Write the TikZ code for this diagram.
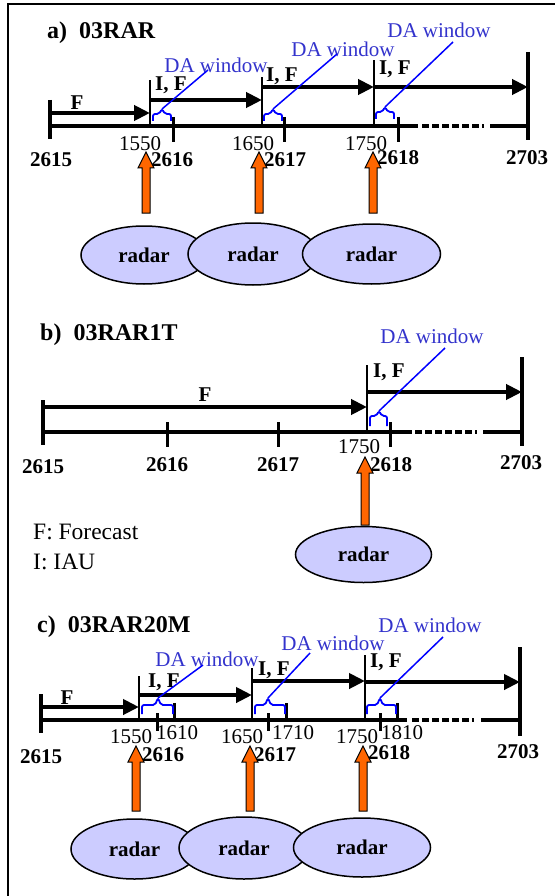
\documentclass[tikz,border=0pt]{standalone}
\usepackage{fontspec}
\setmainfont{Liberation Serif}
\usetikzlibrary{arrows.meta,shapes.geometric}

\definecolor{radarfill}{RGB}{204,204,255}
\definecolor{radarorange}{RGB}{255,102,0}
\definecolor{datext}{RGB}{51,51,204}

\tikzset{
  timeline/.style={line width=4pt},
  dotgap/.style={line width=4pt,dash pattern=on 7pt off 3pt},
  endtick/.style={line width=4.5pt},
  hourtick/.style={line width=3pt},
  cycleline/.style={line width=2pt},
  run/.style={line width=4pt,-{Triangle[length=16pt,width=15pt]}},
  dabrace/.style={blue,line width=1.8pt,rounded corners=2pt},
  daleader/.style={blue,line width=1.5pt},
  dalabel/.style={text=datext,font=\fontsize{21}{24}\selectfont,inner sep=0pt},
  lab/.style={font=\fontsize{21}{24}\selectfont,inner sep=0pt},
  blab/.style={font=\fontsize{21}{24}\selectfont\bfseries,inner sep=0pt},
  paneltitle/.style={font=\fontsize{24}{28}\selectfont\bfseries,inner sep=0pt,anchor=west},
  legend/.style={font=\fontsize{23.5}{28}\selectfont,inner sep=0pt,anchor=west},
  radar/.style={ellipse,draw,line width=1.5pt,fill=radarfill,inner sep=0pt,
    font=\fontsize{21}{24}\selectfont\bfseries},
  radarup/.style={fill=radarorange,draw=black,line width=1pt},
}

\begin{document}
\begin{tikzpicture}[x=1pt,y=-1pt]
  \useasboundingbox (0,0) rectangle (555,896);
  \draw[line width=1.8pt] (8,896) -- (8,4) -- (555,4);

  % a) 03RAR
  \node[paneltitle] (ta) at (47,33) {a)\ \ 03RAR};
  \coordinate (sa) at (50,126);
  \coordinate (ca1) at (150,126);
  \coordinate (ca2) at (262,126);
  \coordinate (ca3) at (374,126);
  \coordinate (ea) at (528,126);
  \draw[timeline] (sa) -- (418,126);
  \draw[dotgap] (422,126) -- (484,126);
  \draw[timeline] (490,126) -- (ea);
  \draw[endtick] (sa |- 0,100) -- (sa |- 0,139);
  \draw[endtick] (ea |- 0,52) -- (ea |- 0,140);
  \foreach \x in {173,284,398}
    \draw[hourtick] (\x,117) -- (\x,142);
  \draw[cycleline] (ca1) -- (ca1 |- 0,80);
  \draw[cycleline] (ca2) -- (ca2 |- 0,77);
  \draw[cycleline] (ca3) -- (ca3 |- 0,60);
  \draw[run] (sa |- 0,113) -- (ca1 |- 0,113);
  \draw[run] (ca1 |- 0,100) -- (ca2 |- 0,100);
  \draw[run] (ca2 |- 0,87) -- (ca3 |- 0,87);
  \draw[run] (ca3 |- 0,87) -- (ea |- 0,87);
  \node[blab] (fa) at (77,103) {F};
  \node[blab,anchor=west] (ifa1) at (155,85) {I, F};
  \node[blab,anchor=west] (ifa2) at (266,76) {I, F};
  \node[blab,anchor=west] (ifa3) at (379,69) {I, F};
  \foreach \i/\l/\r/\y in {1/153/171/0, 2/264/282/0, 3/376/394/-2}
    \draw[dabrace] (\l,121+\y) -- (\l,114+\y) -- ({(\l+\r)/2-3},114+\y)
      -- ({(\l+\r)/2},109+\y) coordinate (cuspa\i) -- ({(\l+\r)/2+3},114+\y)
      -- (\r,114+\y) -- (\r,121+\y);
  \foreach \i/\x/\y/\dx/\dy in {1/216/65/-8/5, 2/343/49/-6/5, 3/439/30/14/12} {
    \node[dalabel] (daa\i) at (\x,\y) {DA window};
    \draw[daleader] (cuspa\i) -- ([shift={(\dx,\dy)}]daa\i.center);
  }
  \foreach \t/\x in {1550/140, 1650/253, 1750/366}
    \node[lab] (a\t) at (\x,144) {\t};
  \foreach \t/\x/\y in {2615/51/160, 2616/172/160, 2617/285/160, 2618/398/158, 2703/527/158}
    \node[blab] (a\t) at (\x,\y) {\t};
  \foreach \x in {146,259,373}
    \filldraw[radarup] (\x-4,213) -- (\x-4,168) -- (\x-8,168) -- (\x,152)
      -- (\x+8,168) -- (\x+4,168) -- (\x+4,213) -- cycle;
  \foreach \i/\x/\y/\w/\h in {1/144/255/126pt/58pt, 2/253/254/130pt/62pt, 3/371.5/254/138pt/60pt}
    \node[radar,minimum width=\w,minimum height=\h] (ra\i) at (\x,\y) {radar};

  % b) 03RAR1T
  \node[paneltitle] (tb) at (40,335) {b)\ \ 03RAR1T};
  \coordinate (sb) at (43,432);
  \coordinate (cb) at (367,432);
  \coordinate (eb) at (522,432);
  \draw[timeline] (sb) -- (412,432);
  \draw[dotgap] (415,432) -- (477,432);
  \draw[timeline] (483,432) -- (eb);
  \draw[endtick] (sb |- 0,400) -- (sb |- 0,445);
  \draw[endtick] (eb |- 0,357) -- (eb |- 0,446);
  \foreach \x in {167,278,390}
    \draw[hourtick] (\x,422) -- (\x,447);
  \draw[cycleline] (cb) -- (cb |- 0,365);
  \draw[run] (sb |- 0,407) -- (cb |- 0,407);
  \draw[run] (cb |- 0,392) -- (eb |- 0,392);
  \node[blab] (fb) at (205,395) {F};
  \node[blab,anchor=west] (ifb) at (373,372) {I, F};
  \draw[dabrace] (370,426) -- (370,416) -- (376,416) -- (379,411) coordinate (cuspb)
    -- (382,416) -- (387,416) -- (387,426);
  \node[dalabel] (dab) at (432,336) {DA window};
  \draw[daleader] (cuspb) -- ([shift={(13,12)}]dab.center);
  \node[lab] (b1750) at (359,447) {1750};
  \foreach \t/\x/\y in {2615/43/467, 2616/167/465, 2617/278/465, 2618/391/465, 2703/521/463}
    \node[blab] (b\t) at (\x,\y) {\t};
  \node[legend] (lf) at (33,532) {F: Forecast};
  \node[legend] (li) at (33,562) {I: IAU};
  \filldraw[radarup] (361,525) -- (361,473) -- (357,473) -- (365,457)
    -- (373,473) -- (369,473) -- (369,525) -- cycle;
  \node[radar,minimum width=136pt,minimum height=56pt] (rb) at (363.5,554.5) {radar};

  % c) 03RAR20M
  \node[paneltitle] (tc) at (37,627) {c)\ \ 03RAR20M};
  \coordinate (sc) at (41,720);
  \coordinate (cc1) at (139,720);
  \coordinate (cc2) at (252,720);
  \coordinate (cc3) at (365,720);
  \coordinate (ec) at (520,720);
  \draw[timeline] (sc) -- (407,720);
  \draw[dotgap] (412,720) -- (474,720);
  \draw[timeline] (481,720) -- (ec);
  \draw[endtick] (sc |- 0,694) -- (sc |- 0,733);
  \draw[endtick] (ec |- 0,647) -- (ec |- 0,736);
  \foreach \x in {157,268,380}
    \draw[hourtick] (\x,713) -- (\x,731);
  \foreach \x in {174,286,397}
    \draw[hourtick] (\x,703) -- (\x,720);
  \draw[cycleline] (cc1) -- (cc1 |- 0,676);
  \draw[cycleline] (cc2) -- (cc2 |- 0,668);
  \draw[cycleline] (cc3) -- (cc3 |- 0,655);
  \draw[run] (sc |- 0,707) -- (cc1 |- 0,707);
  \draw[run] (cc1 |- 0,695) -- (cc2 |- 0,695);
  \draw[run] (cc2 |- 0,681) -- (cc3 |- 0,681);
  \draw[run] (cc3 |- 0,682) -- (ec |- 0,682);
  \node[blab] (fc) at (67,698) {F};
  \node[blab,anchor=west] (ifc1) at (148,682) {I, F};
  \node[blab,anchor=west] (ifc2) at (258,670) {I, F};
  \node[blab,anchor=west] (ifc3) at (370,662) {I, F};
  \foreach \i/\l/\r/\m in {1/142/173/158, 2/255/285/268, 3/367/396/380}
    \draw[dabrace] (\l,714) -- (\l,705) -- (\m-3,705) -- (\m,698) coordinate (cuspc\i)
      -- (\m+3,705) -- (\r,705) -- (\r,714);
  \foreach \i/\x/\y/\dx/\dy in {1/207/659/-4/6, 2/333/643/-23/10, 3/430/625/13/12} {
    \node[dalabel] (dac\i) at (\x,\y) {DA window};
    \draw[daleader] (cuspc\i) -- ([shift={(\dx,\dy)}]dac\i.center);
  }
  \foreach \t/\x/\y in {1550/131/737, 1610/177/733, 1650/242/737, 1710/293/733, 1750/357/737, 1810/402/733}
    \node[lab] (c\t) at (\x,\y) {\t};
  \foreach \t/\x/\y in {2615/41/757, 2616/163/755, 2617/275/755, 2618/389/753, 2703/518/752}
    \node[blab] (c\t) at (\x,\y) {\t};
  \foreach \x in {136,250,363}
    \filldraw[radarup] (\x-4,811) -- (\x-4,762) -- (\x-8,762) -- (\x,746)
      -- (\x+8,762) -- (\x+4,762) -- (\x+4,811) -- cycle;
  \foreach \i/\x/\y/\w/\h in {1/134.5/849/127pt/60pt, 2/244/848/130pt/62pt, 3/362/847.5/137pt/59pt}
    \node[radar,minimum width=\w,minimum height=\h] (rc\i) at (\x,\y) {radar};
\end{tikzpicture}
\end{document}
